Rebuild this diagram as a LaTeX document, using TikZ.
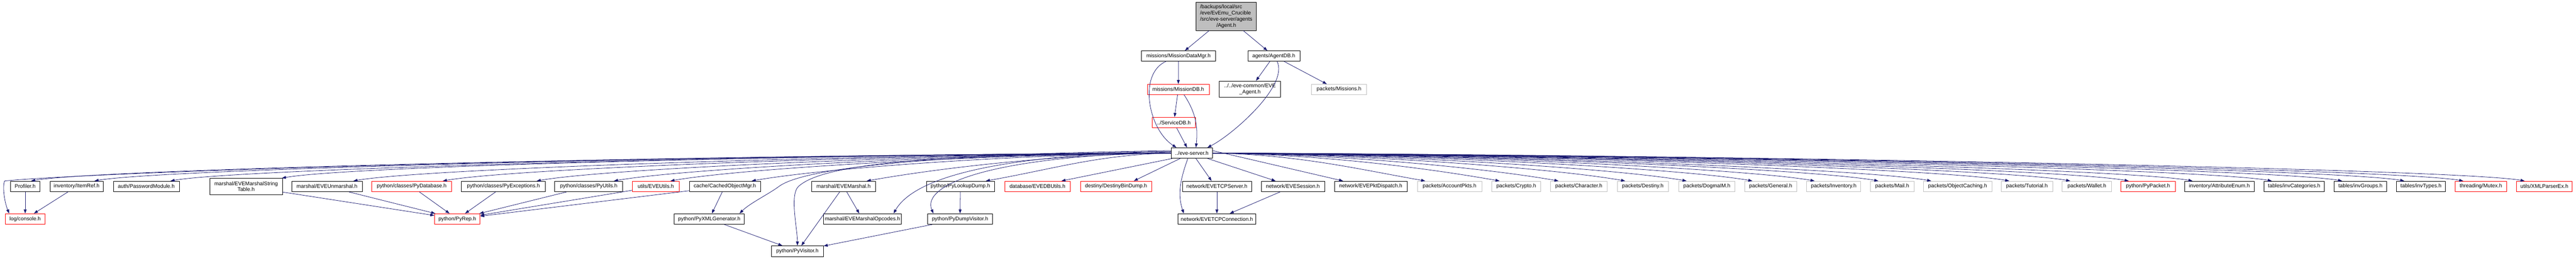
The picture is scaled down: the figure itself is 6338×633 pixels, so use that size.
\documentclass[tikz,border=0pt]{standalone}
\usepackage{fontspec}
\setmainfont{Liberation Sans}
\usetikzlibrary{arrows.meta}
\definecolor{edgeblue}{HTML}{191970}
\definecolor{nodocgrey}{HTML}{BFBFBF}
\tikzset{
  box/.style={draw=black, line width=1pt, inner sep=0pt, minimum height=26pt,
    font=\fontsize{13}{15}\selectfont, align=center},
  trunc/.style={box, draw=red},
  nodoc/.style={box, draw=nodocgrey},
  edge/.style={draw=edgeblue, line width=1pt, -{Triangle[length=10pt,width=7pt]}},
  fanl/.style={to path={.. controls +(-#1,4) and +(170,-30) .. (\tikztotarget)}},
  fanr/.style={to path={.. controls +(#1,4) and +(-170,-30) .. (\tikztotarget)}},
}
\begin{document}
\begin{tikzpicture}[x=1pt,y=-1pt]
\useasboundingbox (0,0) rectangle (6338,633);
% top part
\node[box, fill=nodocgrey, minimum width=148, minimum height=69] (agent) at (3017,40.5)
  {\begin{tabular}{@{}l@{}}/backups/local/src\\/eve/EvEmu\_Crucible\\/src/eve-server/agents\\\multicolumn{1}{@{}c@{}}{/Agent.h}\end{tabular}};
\node[box, minimum width=183, minimum height=25] (mdm) at (2899.5,137.5) {missions/MissionDataMgr.h};
\node[box, minimum width=128, minimum height=25] (adb) at (3134,137.5) {agents/AgentDB.h};
\node[trunc, minimum width=152, minimum height=25] (missiondb) at (2899,219.5) {missions/MissionDB.h};
\node[box, minimum width=151, minimum height=40] (eveagent) at (3075.5,219) {../../eve-common/EVE\\\_Agent.h};
\node[nodoc, minimum width=135, minimum height=25] (missions) at (3294.5,219.5) {packets/Missions.h};
\node[trunc, minimum width=106] (servicedb) at (2888,301) {../ServiceDB.h};
\node[box, minimum width=101] (es) at (2932.5,376) {../eve-server.h};
% direct includes of eve-server.h
\node[box, minimum width=72] (profiler) at (62,458) {Profiler.h};
\node[box, minimum width=131] (itemref) at (188.5,458) {inventory/ItemRef.h};
\node[box, minimum width=162] (pwdmod) at (360,458) {auth/PasswordModule.h};
\node[box, minimum width=179, minimum height=40] (strtab) at (605.5,458) {marshal/EVEMarshalString\\Table.h};
\node[box, minimum width=173] (unmarshal) at (804.5,458) {marshal/EVEUnmarshal.h};
\node[trunc, minimum width=196] (pydb) at (1013,458) {python/classes/PyDatabase.h};
\node[box, minimum width=207] (pyexc) at (1238.5,458) {python/classes/PyExceptions.h};
\node[box, minimum width=167] (pyutils) at (1448.5,458) {python/classes/PyUtils.h};
\node[trunc, minimum width=115] (eveutils) at (1613.5,458) {utils/EVEUtils.h};
\node[box, minimum width=175] (cachedobj) at (1783.5,458) {cache/CachedObjectMgr.h};
\node[box, minimum width=157] (marshal) at (2075.5,458) {marshal/EVEMarshal.h};
\node[box, minimum width=168] (lookupdump) at (2363,458) {python/PyLookupDump.h};
\node[trunc, minimum width=161] (dbutils) at (2552.5,458) {database/EVEDBUtils.h};
\node[trunc, minimum width=176] (bindump) at (2746,458) {destiny/DestinyBinDump.h};
\node[box, minimum width=170] (tcpserver) at (2994,458) {network/EVETCPServer.h};
\node[box, minimum width=156] (session) at (3181,458) {network/EVESession.h};
\node[box, minimum width=179] (pktdisp) at (3372.5,458) {network/EVEPktDispatch.h};
\node[nodoc, minimum width=159] (acctpkts) at (3566.5,458) {packets/AccountPkts.h};
\node[nodoc, minimum width=121] (crypto) at (3730.5,458) {packets/Crypto.h};
\node[nodoc, minimum width=139] (character) at (3884.5,458) {packets/Character.h};
\node[nodoc, minimum width=126] (pdestiny) at (4042,458) {packets/Destiny.h};
\node[nodoc, minimum width=139] (dogma) at (4199.5,458) {packets/DogmaIM.h};
\node[nodoc, minimum width=129] (general) at (4356.5,458) {packets/General.h};
\node[nodoc, minimum width=133] (inventory) at (4511.5,458) {packets/Inventory.h};
\node[nodoc, minimum width=107] (mail) at (4655.5,458) {packets/Mail.h};
\node[nodoc, minimum width=169] (objcache) at (4816.5,458) {packets/ObjectCaching.h};
\node[nodoc, minimum width=126] (tutorial) at (4987,458) {packets/Tutorial.h};
\node[nodoc, minimum width=121] (wallet) at (5134.5,458) {packets/Wallet.h};
\node[trunc, minimum width=134] (pypacket) at (5285,458) {python/PyPacket.h};
\node[box, minimum width=171] (attrenum) at (5460.5,458) {inventory/AttributeEnum.h};
\node[box, minimum width=149] (invcat) at (5644.5,458) {tables/invCategories.h};
\node[box, minimum width=129] (invgroups) at (5807.5,458) {tables/invGroups.h};
\node[box, minimum width=121] (invtypes) at (5956.5,458) {tables/invTypes.h};
\node[trunc, minimum width=126] (mutex) at (6104,458) {threading/Mutex.h};
\node[trunc, minimum width=136] (xmlparser) at (6260,458) {utils/XMLParserEx.h};
% lower levels
\node[trunc, minimum width=98] (console) at (62,538) {log/console.h};
\node[trunc, minimum width=112] (pyrep) at (1125,538) {python/PyRep.h};
\node[box, minimum width=172] (xmlgen) at (1745,538) {python/PyXMLGenerator.h};
\node[box, minimum width=192] (opcodes) at (2122,538) {marshal/EVEMarshalOpcodes.h};
\node[box, minimum width=160] (dumpvis) at (2362,538) {python/PyDumpVisitor.h};
\node[box, minimum width=192] (tcpconn) at (2994,538) {network/EVETCPConnection.h};
\node[box, minimum width=128] (pyvisitor) at (1962,617) {python/PyVisitor.h};

% edges of the top part
\draw[edge] (agent) -- (mdm);
\draw[edge] (agent) -- (adb);
\draw[edge] (mdm) -- (missiondb);
\draw[edge] ([xshift=-30]mdm.south) .. controls +(-70,30) and +(-70,-45) .. ([xshift=-38]es.north);
\draw[edge] (adb) -- (eveagent);
\draw[edge] (adb) -- ([xshift=-30]missions.north);
\draw[edge] ([xshift=8]adb.south) .. controls +(30,60) and +(60,-30) .. ([xshift=38]es.north);
\draw[edge] (missiondb) -- (servicedb);
\draw[edge] ([xshift=14]missiondb.south) .. controls +(30,45) and +(5,-50) .. ([xshift=10]es.north);
\draw[edge] (servicedb) -- ([xshift=-12]es.north);

% eve-server.h to the left
\draw[edge] (es.west) .. controls +(-1500,8) and +(200,-20) .. ([xshift=-14]profiler.north west)
  .. controls +(-6,12) and +(-12,-30) .. ([xshift=10]console.north west);
\draw[edge] (es.west) to[fanl=1100] ([xshift=-22]profiler.north east);
\draw[edge] (es.west) to[fanl=1050] ([xshift=-22]itemref.north east);
\draw[edge] (es.west) to[fanl=980] ([xshift=-22]pwdmod.north east);
\draw[edge] (es.west) to[fanl=870] ([xshift=-2]strtab.north east);
\draw[edge] (es.west) to[fanl=800] ([xshift=-22]unmarshal.north east);
\draw[edge] (es.west) to[fanl=720] ([xshift=-22]pydb.north east);
\draw[edge] (es.west) to[fanl=620] ([xshift=-22]pyexc.north east);
\draw[edge] (es.west) to[fanl=550] ([xshift=-22]pyutils.north east);
\draw[edge] (es.west) to[fanl=490] ([xshift=-22]eveutils.north east);
\draw[edge] (es.west) to[fanl=410] ([xshift=-22]cachedobj.north east);
\draw[edge] (es.west) to[fanl=300] ([xshift=-22]marshal.north east);
\draw[edge] (es.west) to[fanl=180] ([xshift=-22]lookupdump.north east);
\draw[edge] ([xshift=2]es.south west) -- ([xshift=-22]dbutils.north east);
\draw[edge] ([xshift=22]es.south west) -- ([xshift=-45]bindump.north east);
\draw[edge] ([xshift=10]es.south) -- ([xshift=-13]tcpserver.north);
\draw[edge] ([xshift=-12]es.south east) -- ([xshift=36]session.north west);
% eve-server.h to the lower levels
\draw[edge] ([yshift=4]es.west) .. controls +(-600,8) and +(60,-45) .. ([xshift=45]cachedobj.east)
  .. controls +(-24,18) and +(25,-25) .. ([xshift=-12]xmlgen.north east);
\draw[edge] ([yshift=6]es.west) .. controls +(-650,10) and +(55,-50) .. ([xshift=-32]marshal.west)
  .. controls +(-22,20) and +(0,-40) .. (pyvisitor.north);
\draw[edge] ([yshift=4]es.west) .. controls +(-500,10) and +(40,-70) .. ([xshift=-20]opcodes.north east);
\draw[edge] ([yshift=2]es.west) .. controls +(-450,10) and +(-30,-70) .. ([xshift=15]dumpvis.north west);
\draw[edge] ([xshift=-10]es.south) .. controls +(-20,55) and +(-15,-45) .. ([xshift=15]tcpconn.north west);
% eve-server.h to the right
\draw[edge] ([yshift=6]es.east) -- ([xshift=22]pktdisp.north west);
\draw[edge] (es.east) to[fanr=210] ([xshift=20]acctpkts.north west);
\draw[edge] (es.east) to[fanr=280] ([xshift=20]crypto.north west);
\draw[edge] (es.east) to[fanr=340] ([xshift=20]character.north west);
\draw[edge] (es.east) to[fanr=400] ([xshift=20]pdestiny.north west);
\draw[edge] (es.east) to[fanr=460] ([xshift=20]dogma.north west);
\draw[edge] (es.east) to[fanr=530] ([xshift=20]general.north west);
\draw[edge] (es.east) to[fanr=590] ([xshift=20]inventory.north west);
\draw[edge] (es.east) to[fanr=650] ([xshift=20]mail.north west);
\draw[edge] (es.east) to[fanr=700] ([xshift=20]objcache.north west);
\draw[edge] (es.east) to[fanr=780] ([xshift=20]tutorial.north west);
\draw[edge] (es.east) to[fanr=840] ([xshift=20]wallet.north west);
\draw[edge] (es.east) to[fanr=900] ([xshift=20]pypacket.north west);
\draw[edge] (es.east) to[fanr=960] ([xshift=20]attrenum.north west);
\draw[edge] (es.east) to[fanr=1040] ([xshift=20]invcat.north west);
\draw[edge] (es.east) to[fanr=1100] ([xshift=20]invgroups.north west);
\draw[edge] (es.east) to[fanr=1150] ([xshift=20]invtypes.north west);
\draw[edge] (es.east) to[fanr=1200] ([xshift=20]mutex.north west);
\draw[edge] (es.east) to[fanr=1250] ([xshift=20]xmlparser.north west);

% lower levels
\draw[edge] (profiler) -- (console);
\draw[edge] (itemref) -- (console);
\draw[edge] (strtab) -- (pyrep);
\draw[edge] (unmarshal) -- (pyrep);
\draw[edge] (pydb) -- (pyrep);
\draw[edge] (pyexc) -- (pyrep);
\draw[edge] (pyutils) -- (pyrep);
\draw[edge] (eveutils) -- (pyrep);
\draw[edge] (cachedobj) -- (pyrep);
\draw[edge] (cachedobj) -- (xmlgen);
\draw[edge] (marshal) -- (opcodes);
\draw[edge] (marshal) -- (pyvisitor);
\draw[edge] (lookupdump) -- (dumpvis);
\draw[edge] (dumpvis) -- (pyvisitor);
\draw[edge] (xmlgen) -- (pyvisitor);
\draw[edge] (tcpserver) -- (tcpconn);
\draw[edge] (session) -- (tcpconn);
\end{tikzpicture}
\end{document}
